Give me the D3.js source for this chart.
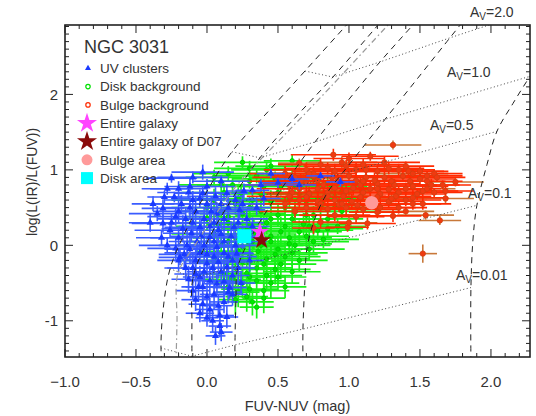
<!DOCTYPE html>
<html>
<head>
<meta charset="utf-8">
<script src="https://cdn.jsdelivr.net/npm/d3@7"></script>
<style>
  body { margin: 0; background: #fff; }
  text { font-family: "Liberation Sans", Arial, sans-serif; fill: #333; }
</style>
</head>
<body>
<div id="chart"></div>
<script>
// [FUV-NUV, log(IR/FUV), err x, err y]
const uvClusters = [
  [-0.25,0.89,0.18,0.06],[-0.13,0.70,0.22,0.08],[-0.30,0.64,0.12,0.08],[-0.23,0.64,0.10,0.07],
  [0.32,0.73,0.12,0.06],[0.50,0.83,0.14,0.07],[0.94,0.84,0.10,0.06],[0.65,0.80,0.12,0.06],
  [-0.03,0.97,0.22,0.10],[-0.35,0.42,0.20,0.10],[-0.31,0.49,0.15,0.12],[-0.26,0.20,0.25,0.10],
  [-0.22,-0.04,0.20,0.15],[-0.19,-0.16,0.15,0.10],[-0.11,0.16,0.20,0.12],[-0.05,0.24,0.25,0.15],
  [0.02,0.11,0.18,0.20],[0.07,-0.02,0.20,0.18],[0.00,-0.24,0.15,0.20],[-0.05,-0.42,0.12,0.15],
  [0.02,-0.47,0.15,0.20],[0.07,-0.51,0.10,0.15],[-0.10,-0.60,0.12,0.12],[-0.03,-0.78,0.10,0.15],
  [0.00,-0.96,0.08,0.12],[0.09,-0.93,0.10,0.12],[0.09,-1.07,0.08,0.15],[0.06,-1.20,0.07,0.12],
  [0.16,-0.56,0.12,0.15],[0.14,-0.29,0.15,0.20],[0.21,-0.11,0.12,0.15],[0.19,0.24,0.15,0.15],
  [0.23,0.47,0.18,0.12],[0.07,0.42,0.20,0.15],[0.14,0.69,0.15,0.12],[-0.03,0.69,0.20,0.10],
  [-0.12,0.78,0.18,0.10],[-0.31,0.29,0.22,0.12],[-0.15,0.35,0.20,0.15],[-0.08,0.45,0.15,0.20],
  [0.00,0.55,0.20,0.15],[0.05,0.30,0.15,0.20],[0.10,0.15,0.20,0.15],[0.12,0.05,0.15,0.20],
  [-0.02,0.00,0.20,0.20],[-0.12,-0.05,0.18,0.20],[-0.08,-0.20,0.15,0.15],[0.05,-0.15,0.20,0.20],
  [0.10,-0.35,0.15,0.20],[-0.02,-0.35,0.12,0.15],[0.05,-0.65,0.10,0.20],[0.12,-0.75,0.10,0.15],
  [-0.06,-0.55,0.12,0.20],[0.18,-0.40,0.12,0.15],[0.25,0.10,0.15,0.15],[0.28,0.35,0.15,0.12],
  [-0.18,0.55,0.20,0.12],[-0.20,0.10,0.20,0.12],[-0.15,-0.30,0.15,0.15],[-0.28,0.00,0.20,0.10],
  [0.00,0.78,0.20,0.10],[0.20,0.60,0.15,0.12],[-0.10,0.90,0.25,0.08],[0.35,0.50,0.10,0.10],
  [0.30,-0.20,0.10,0.15],[0.22,-0.30,0.12,0.20],[-0.05,-0.10,0.25,0.15],[0.08,0.20,0.25,0.18],
  [0.15,-0.15,0.20,0.20],[-0.13,-0.45,0.12,0.18],[0.02,-0.85,0.10,0.15],[0.14,-0.95,0.08,0.15],
  [-0.02,0.35,0.25,0.15],[0.12,0.35,0.20,0.15],[-0.22,0.38,0.20,0.12],[-0.38,0.55,0.15,0.10],
  [-0.40,0.30,0.15,0.12],[0.26,0.72,0.12,0.10],[0.40,0.62,0.12,0.10],[0.45,0.95,0.10,0.06],
  [0.80,0.92,0.10,0.05],[0.60,0.88,0.12,0.06],[-0.28,0.75,0.18,0.08],[0.10,0.85,0.20,0.08],
  [0.18,-0.65,0.10,0.15],[-0.08,-0.72,0.10,0.15],[0.04,-0.30,0.20,0.20],[-0.10,0.60,0.20,0.12],
  [0.30,0.05,0.12,0.15],
  [-0.20,0.45,0.18,0.15],[-0.10,0.30,0.20,0.18],[0.03,0.45,0.20,0.20],[0.15,0.50,0.18,0.15],
  [-0.17,0.22,0.15,0.18],[-0.04,0.12,0.22,0.20],[0.17,0.12,0.18,0.20],[-0.14,0.00,0.20,0.20],
  [0.00,-0.12,0.22,0.20],[0.20,0.00,0.15,0.18],[-0.10,-0.30,0.18,0.20],[0.08,-0.22,0.20,0.22],
  [0.12,-0.48,0.15,0.20],[-0.03,-0.55,0.12,0.20],[0.00,-0.68,0.12,0.18],[0.08,-0.80,0.10,0.15],
  [-0.07,0.05,0.20,0.20],[0.10,0.55,0.20,0.15],[-0.05,0.62,0.20,0.12],[-0.25,0.30,0.20,0.12],
  [-0.32,0.10,0.18,0.10],[-0.20,-0.20,0.15,0.15],[0.05,0.05,0.22,0.20],[0.22,0.30,0.18,0.15],
  [0.18,-0.20,0.12,0.20],[-0.12,0.50,0.20,0.15],[0.06,0.65,0.20,0.12],[-0.20,0.75,0.20,0.10],
  [0.25,0.55,0.15,0.12],[0.12,-0.10,0.20,0.20],[-0.16,-0.12,0.18,0.18],[0.02,0.25,0.22,0.20],
  [-0.08,-0.38,0.15,0.20],[0.15,-0.62,0.10,0.15],[0.04,-1.00,0.08,0.15],[0.10,-1.15,0.08,0.12],
  [-0.05,-0.90,0.10,0.12],[0.24,-0.50,0.10,0.15],[0.32,0.25,0.12,0.12],[0.38,0.80,0.12,0.08]
];
const diskBackground = [
  [0.25,1.10,0.20,0.08],[0.45,1.05,0.25,0.10],[0.60,1.12,0.20,0.08],
  [0.15,0.95,0.25,0.10],[0.35,0.92,0.30,0.10],[0.55,0.95,0.25,0.10],[0.75,0.90,0.25,0.08],[0.05,0.90,0.20,0.10],
  [0.10,0.80,0.30,0.10],[0.24,0.69,0.30,0.12],[0.18,0.80,0.25,0.10],[0.40,0.78,0.30,0.12],[0.62,0.80,0.30,0.10],
  [0.85,0.82,0.25,0.10],[0.50,0.70,0.30,0.12],[0.72,0.70,0.30,0.12],[0.95,0.72,0.20,0.10],
  [0.05,0.60,0.30,0.15],[0.20,0.55,0.30,0.15],[0.32,0.60,0.30,0.15],[0.45,0.58,0.30,0.15],[0.58,0.60,0.30,0.12],
  [0.70,0.55,0.30,0.12],[0.82,0.60,0.30,0.10],[1.00,0.60,0.20,0.10],[0.90,0.50,0.30,0.12],
  [0.10,0.45,0.30,0.15],[0.25,0.42,0.30,0.20],[0.38,0.45,0.30,0.15],[0.50,0.40,0.30,0.15],[0.62,0.45,0.30,0.15],
  [0.75,0.40,0.30,0.12],[0.85,0.35,0.25,0.12],[0.00,0.35,0.25,0.15],
  [0.15,0.30,0.30,0.20],[0.30,0.28,0.30,0.20],[0.42,0.30,0.30,0.15],[0.55,0.25,0.30,0.15],[0.68,0.28,0.30,0.15],
  [0.78,0.20,0.25,0.12],[0.92,0.25,0.20,0.10],
  [0.05,0.15,0.30,0.20],[0.20,0.10,0.30,0.20],[0.33,0.15,0.30,0.20],[0.45,0.12,0.30,0.20],[0.58,0.10,0.30,0.15],
  [0.70,0.12,0.30,0.15],[0.82,0.08,0.25,0.12],
  [0.10,0.00,0.30,0.20],[0.25,-0.02,0.30,0.20],[0.38,0.00,0.30,0.20],[0.50,-0.05,0.30,0.20],[0.62,0.00,0.25,0.15],
  [0.72,-0.05,0.25,0.15],
  [0.15,-0.15,0.30,0.20],[0.30,-0.15,0.30,0.20],[0.42,-0.18,0.30,0.20],[0.55,-0.15,0.25,0.20],[0.65,-0.20,0.20,0.15],
  [0.05,-0.20,0.25,0.20],
  [0.20,-0.30,0.25,0.20],[0.35,-0.30,0.25,0.20],[0.48,-0.32,0.25,0.20],[0.60,-0.35,0.20,0.15],[0.12,-0.38,0.20,0.20],
  [0.28,-0.37,0.20,0.20],[0.35,-0.47,0.20,0.20],[0.25,-0.50,0.20,0.20],[0.45,-0.50,0.20,0.20],[0.15,-0.55,0.15,0.20],
  [0.55,-0.55,0.15,0.15],
  [0.28,-0.68,0.15,0.20],[0.40,-0.70,0.15,0.20],[0.20,-0.72,0.12,0.20],[0.35,-0.82,0.12,0.15],
  [0.30,0.85,0.30,0.10],[0.48,0.88,0.30,0.10],[0.68,0.85,0.25,0.10],[0.22,0.62,0.30,0.15],[0.38,0.68,0.30,0.12],
  [0.55,0.50,0.30,0.15],[0.65,0.68,0.30,0.12],[0.80,0.50,0.30,0.12],[0.30,0.50,0.30,0.15],[0.15,0.38,0.30,0.20],
  [0.45,0.35,0.30,0.20],[0.60,0.35,0.30,0.15],[0.72,0.25,0.30,0.15],[0.28,0.20,0.30,0.20],[0.40,0.22,0.30,0.20],
  [0.52,0.18,0.30,0.20],[0.65,0.18,0.30,0.15],[0.15,0.05,0.30,0.20],[0.32,0.05,0.30,0.20],[0.45,0.05,0.30,0.20],
  [0.58,0.02,0.30,0.18],[0.22,-0.08,0.30,0.20],[0.36,-0.08,0.30,0.20],[0.48,-0.12,0.30,0.20],[0.60,-0.10,0.25,0.18],
  [0.25,-0.22,0.30,0.20],[0.40,-0.25,0.28,0.20],[0.52,-0.25,0.25,0.20],[0.30,-0.42,0.25,0.20],[0.42,-0.40,0.25,0.20],
  [0.18,-0.45,0.20,0.20],[0.50,-0.42,0.20,0.18],[0.30,-0.58,0.20,0.20],[0.40,-0.60,0.18,0.20],[0.22,-0.62,0.15,0.20],
  [0.32,-0.75,0.15,0.18],[0.78,0.62,0.30,0.12],[0.90,0.65,0.25,0.10],[0.88,0.78,0.25,0.10],[0.42,1.00,0.25,0.10],
  [0.30,1.02,0.25,0.10],[0.12,0.70,0.30,0.12],[0.08,0.25,0.30,0.20],[0.00,0.50,0.25,0.15],[0.70,0.40,0.30,0.15],
  [0.95,0.45,0.25,0.10],[0.75,0.05,0.25,0.15],[0.85,0.22,0.25,0.12],[0.60,0.90,0.30,0.10],[0.52,0.78,0.30,0.12]
];
const bulgeBackground = [
  [0.89,1.20,0.30,0.08],[1.00,1.15,0.25,0.08],[1.15,1.18,0.20,0.06],
  [0.80,1.07,0.30,0.08],[1.10,1.07,0.30,0.08],[1.25,1.10,0.25,0.08],[1.40,1.05,0.20,0.06],
  [0.70,1.00,0.30,0.10],[0.90,0.98,0.30,0.10],[1.05,1.00,0.30,0.10],[1.20,0.98,0.30,0.08],[1.35,1.00,0.25,0.08],
  [1.50,0.98,0.20,0.06],[1.60,0.95,0.20,0.06],
  [0.62,0.90,0.30,0.10],[0.75,0.92,0.30,0.10],[0.88,0.90,0.30,0.10],[1.00,0.92,0.30,0.10],[1.12,0.90,0.30,0.10],
  [1.25,0.90,0.30,0.08],[1.38,0.92,0.25,0.08],[1.50,0.88,0.25,0.08],[1.62,0.90,0.20,0.06],
  [0.58,0.80,0.30,0.10],[0.70,0.82,0.30,0.10],[0.82,0.80,0.30,0.10],[0.95,0.82,0.30,0.10],[1.08,0.80,0.30,0.10],
  [1.20,0.82,0.30,0.10],[1.32,0.80,0.30,0.08],[1.45,0.78,0.25,0.08],[1.58,0.80,0.20,0.08],
  [0.60,0.70,0.30,0.10],[0.72,0.68,0.30,0.10],[0.85,0.70,0.30,0.10],[0.98,0.72,0.30,0.10],[1.10,0.70,0.30,0.10],
  [1.22,0.68,0.30,0.10],[1.35,0.70,0.25,0.08],[1.48,0.68,0.20,0.08],[1.60,0.70,0.20,0.06],
  [0.65,0.60,0.30,0.10],[0.78,0.58,0.30,0.10],[0.90,0.60,0.30,0.10],[1.02,0.58,0.30,0.10],[1.15,0.60,0.30,0.10],
  [1.28,0.58,0.25,0.08],[1.40,0.60,0.25,0.08],[1.52,0.55,0.20,0.08],
  [0.70,0.50,0.25,0.10],[0.85,0.48,0.25,0.10],[0.98,0.50,0.25,0.10],[1.10,0.48,0.25,0.08],[1.22,0.50,0.25,0.08],
  [1.35,0.50,0.20,0.08],[0.62,0.45,0.25,0.08],[0.55,0.55,0.25,0.08],
  [1.20,0.44,0.20,0.08],[1.31,0.39,0.20,0.08],[0.90,0.40,0.25,0.08],[1.05,0.38,0.20,0.08],
  [0.80,0.31,0.20,0.08],[1.13,0.29,0.20,0.08],[0.75,0.23,0.15,0.08],[0.99,0.24,0.15,0.06],
  [0.66,0.85,0.30,0.10],[0.78,0.86,0.30,0.10],[0.92,0.85,0.30,0.10],[1.05,0.86,0.30,0.10],[1.18,0.86,0.30,0.10],
  [1.30,0.85,0.30,0.08],[1.43,0.85,0.25,0.08],[1.55,0.85,0.25,0.08],[0.65,0.75,0.30,0.10],[0.78,0.75,0.30,0.10],
  [0.90,0.76,0.30,0.10],[1.03,0.76,0.30,0.10],[1.15,0.75,0.30,0.10],[1.28,0.74,0.30,0.10],[1.40,0.75,0.25,0.08],
  [1.52,0.72,0.25,0.08],[0.70,0.64,0.30,0.10],[0.83,0.64,0.30,0.10],[0.96,0.65,0.30,0.10],[1.08,0.64,0.30,0.10],
  [1.20,0.64,0.30,0.10],[1.33,0.65,0.25,0.08],[1.45,0.63,0.25,0.08],[0.75,0.95,0.30,0.10],[0.85,1.02,0.30,0.08],
  [0.98,1.05,0.30,0.08],[1.12,1.00,0.30,0.08],[1.28,1.02,0.25,0.08],[1.42,0.98,0.25,0.06],[1.55,0.92,0.25,0.06],
  [1.66,0.80,0.20,0.06],[1.68,0.72,0.20,0.06],[0.80,0.55,0.30,0.10],[0.93,0.54,0.30,0.10],[1.06,0.53,0.30,0.10],
  [1.18,0.55,0.25,0.08],[1.45,0.55,0.20,0.08],[0.58,0.65,0.30,0.10],[0.50,0.85,0.25,0.10],[0.55,0.95,0.25,0.10]
];
const bulgeBackgroundOuter = [
  [1.31,1.33,0.20,0.06],[0.65,1.09,0.15,0.06],[1.75,0.84,0.20,0.06],[1.54,0.40,0.20,0.06],
  [1.64,0.33,0.15,0.06],[1.52,-0.11,0.10,0.12],[0.95,1.10,0.25,0.08],[1.45,0.95,0.25,0.06],
  [1.30,0.62,0.25,0.08],[1.10,0.85,0.30,0.08],[0.85,0.65,0.30,0.08],[1.55,0.75,0.20,0.06],
  [0.72,0.95,0.30,0.08],[1.20,0.75,0.25,0.08],[0.95,0.55,0.25,0.08],[1.40,0.45,0.20,0.06],
  [1.68,0.62,0.20,0.06],[1.00,0.30,0.20,0.08]
];
const entireGalaxy = [0.373, 0.177];
const entireGalaxyD07 = [0.385, 0.067];
const bulgeArea = [1.16, 0.564];
const diskArea = [0.263, 0.12];

// model tracks (dashed) and equal-Av lines (dotted)
const tracks = [
  [[-0.317,-1.55],[-0.324,-1.36],[-0.31,-0.87],[-0.26,-0.31],[-0.155,0.17],[-0.035,0.6],[0.176,1.24],[0.444,1.8],[0.69,2.31],[1.007,2.97]],
  [[-0.106,-1.55],[-0.106,-1.47],[-0.106,-1.0],[-0.099,-0.43],[0.0,0.04],[0.148,0.53],[0.373,1.16],[0.62,1.69],[0.887,2.23],[1.218,2.95]],
  [[0.197,-1.55],[0.197,-1.32],[0.204,-0.73],[0.218,-0.28],[0.338,0.2],[0.514,0.72],[0.761,1.37],[0.972,1.87],[1.218,2.43],[1.465,2.95]],
  [[0.676,-1.55],[0.676,-1.11],[0.69,-0.47],[0.704,-0.04],[0.761,0.36],[0.852,0.71],[0.951,0.95],[1.254,1.67],[1.711,2.75],[1.796,2.95]],
  [[1.859,-1.55],[1.859,-0.56],[1.873,0.07],[1.901,0.53],[1.972,1.07],[2.042,1.51],[2.155,1.88],[2.275,2.24],[2.38,2.53]]
];
const grayTrack = [[-0.218,-1.55],[-0.211,-1.0],[-0.204,-0.37],[-0.085,0.0],[0.056,0.4],[0.244,0.87],[0.514,1.4],[0.866,2.09],[1.289,2.95]];
const avValues = ["2.0", "1.0", "0.5", "0.1", "0.01"];
const avLines = [
  [[0.69,2.31],[0.887,2.23],[1.218,2.43],[1.711,2.75],[2.6,3.3]],
  [[0.176,1.24],[0.373,1.16],[0.761,1.37],[1.254,1.67],[2.275,2.24]],
  [[-0.035,0.6],[0.148,0.53],[0.514,0.72],[0.951,0.95],[2.042,1.51]],
  [[-0.26,-0.31],[-0.099,-0.43],[0.218,-0.28],[0.704,-0.04],[1.901,0.53]],
  [[-0.324,-1.36],[-0.106,-1.47],[0.197,-1.32],[0.676,-1.11],[1.859,-0.56]]
];
const avLabelAt = [[1.852,3.03],[1.69,2.23],[1.57,1.53],[1.838,0.63],[1.754,-0.46]];

const xTicks = [-1.0, -0.5, 0.0, 0.5, 1.0, 1.5, 2.0];
const yTicks = [-1, 0, 1, 2];

const width = 536, height = 416;
const plot = { left: 65, right: 530, top: 25, bottom: 357 };

const svg = d3.select("#chart").append("svg")
  .attr("width", width).attr("height", height);

const x = d3.scaleLinear().domain([-1, 2.275]).range([plot.left, plot.right]);
const y = d3.scaleLinear().domain([-1.48, 2.92]).range([plot.bottom, plot.top]);

svg.append("clipPath").attr("id", "clip").append("rect")
  .attr("x", plot.left).attr("y", plot.top)
  .attr("width", plot.right - plot.left).attr("height", plot.bottom - plot.top);

const g = svg.append("g").attr("clip-path", "url(#clip)");

function errorBars(data, color, w) {
  const eb = g.append("g").attr("stroke", color).attr("stroke-width", w);
  eb.selectAll(null).data(data).join("line")
    .attr("x1", d => x(d[0] - d[2])).attr("x2", d => x(d[0] + d[2]))
    .attr("y1", d => y(d[1])).attr("y2", d => y(d[1]));
  eb.selectAll(null).data(data).join("line")
    .attr("x1", d => x(d[0])).attr("x2", d => x(d[0]))
    .attr("y1", d => y(d[1] - d[3])).attr("y2", d => y(d[1] + d[3]));
}

// disk background
errorBars(diskBackground, "#18f018", 1.7);
g.append("g").selectAll("circle").data(diskBackground).join("circle")
  .attr("cx", d => x(d[0])).attr("cy", d => y(d[1])).attr("r", 2.2)
  .attr("fill", "#00e800").attr("stroke", "#00d000").attr("stroke-width", 1);

// bulge background
errorBars(bulgeBackgroundOuter, "#c8783a", 1.6);
errorBars(bulgeBackground, "#ff2a00", 1.6);
g.append("g").selectAll("circle").data(bulgeBackground.concat(bulgeBackgroundOuter)).join("circle")
  .attr("cx", d => x(d[0])).attr("cy", d => y(d[1])).attr("r", 2.7)
  .attr("fill", "#f03a10").attr("stroke", "#d04010").attr("stroke-width", 0.8);

// UV clusters
errorBars(uvClusters, "#3a5cff", 1.6);
g.append("g").selectAll("path").data(uvClusters).join("path")
  .attr("transform", d => `translate(${x(d[0])},${y(d[1])})`)
  .attr("d", d3.symbol(d3.symbolTriangle, 22))
  .attr("fill", "#1a3aff");

// model lines
const line = d3.line().x(d => x(d[0])).y(d => y(d[1]));
const curve = d3.line().x(d => x(d[0])).y(d => y(d[1])).curve(d3.curveCatmullRom.alpha(0.5));

g.append("path").datum(grayTrack).attr("d", curve)
  .attr("fill", "none").attr("stroke", "#9a9a9a").attr("stroke-width", 1.2)
  .attr("stroke-dasharray", "6,3,1.5,3");

g.selectAll(".track").data(tracks).join("path").attr("class", "track")
  .attr("d", curve).attr("fill", "none").attr("stroke", "#222")
  .attr("stroke-width", 1).attr("stroke-dasharray", "6,5");

g.selectAll(".avline").data(avLines).join("path").attr("class", "avline")
  .attr("d", line).attr("fill", "none").attr("stroke", "#444")
  .attr("stroke-width", 1).attr("stroke-dasharray", "1,2.5");

// aggregate points
g.append("circle").attr("cx", x(bulgeArea[0])).attr("cy", y(bulgeArea[1])).attr("r", 6.7)
  .attr("fill", "#ff9a9a");
g.append("rect").attr("x", x(diskArea[0]) - 7).attr("y", y(diskArea[1]) - 7)
  .attr("width", 14).attr("height", 14).attr("fill", "#00ffff");
g.append("path").attr("transform", `translate(${x(entireGalaxy[0])},${y(entireGalaxy[1])})`)
  .attr("d", d3.symbol(d3.symbolStar, 105)).attr("fill", "#ff44ff");
g.append("path").attr("transform", `translate(${x(entireGalaxyD07[0])},${y(entireGalaxyD07[1])})`)
  .attr("d", d3.symbol(d3.symbolStar, 105)).attr("fill", "#8b0a0a");

// Av labels
avValues.forEach((v, i) => {
  const t = svg.append("text").attr("x", x(avLabelAt[i][0])).attr("y", y(avLabelAt[i][1]))
    .style("font-size", "14px");
  t.append("tspan").text("A");
  t.append("tspan").text("V").attr("dy", 3).style("font-size", "10px");
  t.append("tspan").text("=" + v).attr("dy", -3);
});

// frame and ticks
const tickLen = 8, minorLen = 4;
const xMinor = d3.range(-10, 23).map(d => d / 10).filter(d => !xTicks.some(t => Math.abs(t - d) < 1e-6));
const yMinor = d3.range(-14, 30).map(d => d / 10).filter(d => !yTicks.some(t => Math.abs(t - d) < 1e-6));

const axes = svg.append("g").attr("stroke", "#222");
axes.selectAll(".xmaj").data(xTicks).join("line")
  .attr("x1", d => x(d)).attr("x2", d => x(d)).attr("y1", plot.bottom).attr("y2", plot.bottom - tickLen);
axes.selectAll(".xmajt").data(xTicks).join("line")
  .attr("x1", d => x(d)).attr("x2", d => x(d)).attr("y1", plot.top).attr("y2", plot.top + tickLen);
axes.selectAll(".xmin").data(xMinor).join("line")
  .attr("x1", d => x(d)).attr("x2", d => x(d)).attr("y1", plot.bottom).attr("y2", plot.bottom - minorLen);
axes.selectAll(".xmint").data(xMinor).join("line")
  .attr("x1", d => x(d)).attr("x2", d => x(d)).attr("y1", plot.top).attr("y2", plot.top + minorLen);
axes.selectAll(".ymaj").data(yTicks).join("line")
  .attr("y1", d => y(d)).attr("y2", d => y(d)).attr("x1", plot.left).attr("x2", plot.left + tickLen);
axes.selectAll(".ymajr").data(yTicks).join("line")
  .attr("y1", d => y(d)).attr("y2", d => y(d)).attr("x1", plot.right).attr("x2", plot.right - tickLen);
axes.selectAll(".ymin").data(yMinor).join("line")
  .attr("y1", d => y(d)).attr("y2", d => y(d)).attr("x1", plot.left).attr("x2", plot.left + minorLen);
axes.selectAll(".yminr").data(yMinor).join("line")
  .attr("y1", d => y(d)).attr("y2", d => y(d)).attr("x1", plot.right).attr("x2", plot.right - minorLen);

svg.append("rect").attr("x", plot.left).attr("y", plot.top)
  .attr("width", plot.right - plot.left).attr("height", plot.bottom - plot.top)
  .attr("fill", "none").attr("stroke", "#222").attr("stroke-width", 1.6);

svg.append("g").selectAll("text").data(xTicks).join("text")
  .attr("x", d => x(d)).attr("y", plot.bottom + 30)
  .attr("text-anchor", "middle").style("font-size", "15px")
  .text(d3.format(".1f"));
svg.append("g").selectAll("text").data(yTicks).join("text")
  .attr("x", plot.left - 7).attr("y", d => y(d) + 5.5)
  .attr("text-anchor", "end").style("font-size", "15px")
  .text(d => d);

svg.append("text").attr("x", (plot.left + plot.right) / 2).attr("y", 411)
  .attr("text-anchor", "middle").style("font-size", "14.5px").text("FUV-NUV (mag)");
svg.append("text").attr("transform", "translate(37,182) rotate(-90)")
  .attr("text-anchor", "middle").style("font-size", "14px").text("log(L(IR)/L(FUV))");

// legend
svg.append("text").attr("x", 84).attr("y", 53).style("font-size", "18px").text("NGC 3031");
const legendItems = [
  "UV clusters", "Disk background", "Bulge background", "Entire galaxy",
  "Entire galaxy of D07", "Bulge area", "Disk area"
];
const leg = svg.append("g");
legendItems.forEach((name, i) => {
  const cy = 68.3 + i * 18.3;
  leg.append("text").attr("x", 100).attr("y", cy + 4.8).style("font-size", "13.5px").text(name);
  const sx = 88;
  if (i === 0) leg.append("path").attr("transform", `translate(${sx},${cy})`)
    .attr("d", d3.symbol(d3.symbolTriangle, 16)).attr("fill", "#1a3aff");
  if (i === 1) leg.append("circle").attr("cx", sx).attr("cy", cy).attr("r", 2.2)
    .attr("fill", "none").attr("stroke", "#00e000").attr("stroke-width", 1.2);
  if (i === 2) leg.append("circle").attr("cx", sx).attr("cy", cy).attr("r", 2.2)
    .attr("fill", "none").attr("stroke", "#ff2a00").attr("stroke-width", 1.2);
  if (i === 3) leg.append("path").attr("transform", `translate(${sx - 1},${cy})`)
    .attr("d", d3.symbol(d3.symbolStar, 125)).attr("fill", "#ff44ff");
  if (i === 4) leg.append("path").attr("transform", `translate(${sx - 1},${cy})`)
    .attr("d", d3.symbol(d3.symbolStar, 125)).attr("fill", "#8b0a0a");
  if (i === 5) leg.append("circle").attr("cx", sx - 1).attr("cy", cy).attr("r", 5.5)
    .attr("fill", "#ff9a9a");
  if (i === 6) leg.append("rect").attr("x", sx - 7).attr("y", cy - 6).attr("width", 12)
    .attr("height", 12).attr("fill", "#00ffff");
});
</script>
</body>
</html>
